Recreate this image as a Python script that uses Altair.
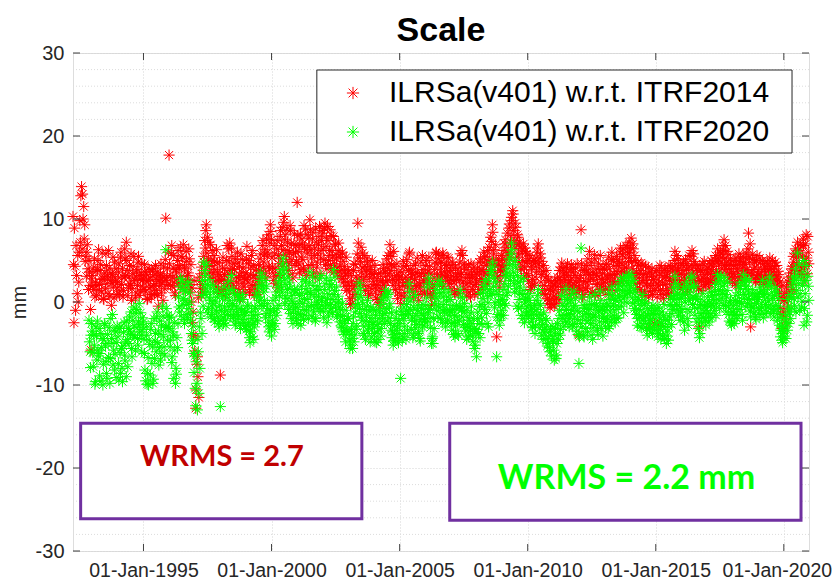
import altair as alt
import pandas as pd

# ---------------- data ----------------
# epochs: set "a" on the 1st/15th of each month, set "b" one week later; from April 1992
START_A = "1992-04-01"
OFFSET_B_DAYS = 7

SERIES = ["ILRSa(v401) w.r.t. ITRF2014", "ILRSa(v401) w.r.t. ITRF2020"]
COLORS = ["#ff0000", "#00ff00"]

# scale w.r.t. ITRF2014 [mm], set a
itrf2014_a = [
    10.3, -2.5, 4.3, 6.8, 1.0, 0.0, 6.0, 7.2, 13.9, 13.0, 11.5, 9.3, 5.5, 6.0, 4.0, 5.0, 2.0, -5.8,  # 1992
    3.2, 1.5, 5.2, 2.4, 0.8, 3.9, 6.3, 2.1, 4.5, 1.2, 2.8, 0.3, 3.5, 5.8, 2.2, 1.0, 4.1, 2.6, -0.4, 3.3, 1.8, 4.8, 2.5, 0.9,
    2.4, 4.6, 1.3, 6.0, 3.1, 0.6, 2.9, 5.2, 7.2, 3.8, 1.7, 4.4, 2.0, 0.2, 3.4, 5.5, 2.6, 1.1, 3.9, 4.8, 0.8, 2.7, 3.5, 1.9,
    2.8, 4.5, 1.2, 3.3, 0.4, 2.6, 3.9, 1.8, 0.9, 3.1, 4.0, 2.2, 1.4, 3.6, -0.5, 2.5, 3.4, 1.1, 2.9, 4.2, 1.6, 10.1, 3.0, 2.1,
    17.7, 3.2, 5.8, 1.9, 4.1, 2.4, 0.8, 3.6, 5.0, 2.2, 4.4, 6.6, 3.1, 5.3, 1.5, 4.0, 6.1, 2.7, 3.5, 5.2, 1.2, 0.0, -2.5, -4.0,
    -5.9, -12.8, -7.5, -9.0, -11.5, 2.5, 0.8, 3.4, 1.2, 4.8, 6.5, 9.3, 7.8, 5.2, 3.6, 6.9, 4.4, 2.8, 5.6, 3.9, 1.8, 4.7, 2.5, 3.3,
    -8.8, 2.6, 4.1, 1.4, 3.3, 0.9, 5.0, 2.2, 6.4, 7.1, 3.8, 5.5, 2.0, 4.6, 1.1, 3.0, 6.0, 2.9, 4.3, 0.5, 3.6, 5.1, 1.8, 2.7,
    3.5, 6.7, 2.4, 5.0, 1.5, 4.2, 6.2, 3.0, 0.8, 2.1, 3.9, 1.2, 4.5, 2.8, 5.8, 3.6, 7.4, 4.8, 6.3, 2.9, 5.5, 8.1, 4.0, 9.3,
    7.5, 4.2, 2.6, 5.8, 3.1, 6.4, 1.7, 4.6, 7.9, 5.2, 9.0, 6.3, 10.3, 8.1, 4.9, 7.2, 3.8, 6.0, 8.6, 5.1, 2.9, 7.0, 4.4, 6.8,
    12.0, 6.1, 3.5, 8.2, 5.4, 7.0, 4.1, 6.6, 8.8, 3.2, 5.9, 7.7, 9.9, 6.3, 4.5, 8.4, 5.6, 3.0, 7.2, 4.8, 6.9, 9.1, 5.3, 7.4,
    8.3, 5.1, 9.5, 6.7, 4.0, 7.4, 5.6, 8.7, 3.9, 6.2, 7.9, 4.6, 6.9, 5.2, 3.5, 7.1, 4.3, 5.8, 2.8, 4.9, 3.1, 1.9, 5.4, 2.4,
    3.6, 1.2, -0.3, 2.5, 0.6, 3.8, 1.9, 4.5, 2.2, 9.5, 5.3, 3.0, 6.6, 4.1, 2.7, 5.6, 1.4, 3.7, 4.8, 0.8, 2.9, 4.2, 1.6, 3.3,
    2.1, 4.4, 0.5, 2.8, -0.3, 1.7, 3.5, 0.9, 2.4, 4.0, 1.3, 3.1, 5.2, 2.6, 4.6, 6.9, 3.8, 5.5, 2.0, 4.3, 1.5, 3.2, 0.4, 2.7,
    1.8, -0.2, 3.6, 2.0, 4.3, 1.1, 3.0, 5.1, 2.4, 5.8, 4.0, 1.6, 3.3, 0.5, 2.7, 4.6, 1.9, 3.5, 0.2, 2.2, 4.8, 1.3, 3.9, 2.6,
    3.4, 5.0, 1.2, 2.8, 4.3, 0.8, -0.4, 2.1, 1.5, 3.9, 5.9, 4.6, 2.6, 5.2, 3.1, 4.8, 2.5, 5.6, 3.7, 2.9, 4.4, 3.2, 5.3, 2.2,
    3.8, 1.6, 4.5, 2.3, 0.9, 3.1, 1.4, 4.0, 2.6, 5.8, 3.5, 5.6, 1.8, 4.2, 2.9, 0.7, 3.3, 1.2, 2.4, 4.6, 3.0, 1.9, 3.7, 2.1,
    2.4, 4.1, 1.5, 3.6, 5.2, 2.8, 4.7, 6.0, 3.4, 5.5, 2.2, 4.8, 6.6, 3.9, 7.3, 9.3, 5.8, 4.4, 6.9, -4.2, 3.1, 5.0, 2.5, 4.3,
    3.6, 6.2, 4.4, 7.5, 5.1, 8.3, 6.0, 9.4, 7.2, 10.2, 11.0, 8.6, 6.5, 9.0, 5.4, 7.8, 4.8, 6.7, 3.9, 5.9, 7.0, 4.2, 6.1, 3.4,
    4.9, 2.5, 5.6, 1.8, 3.9, 2.2, 4.6, 3.0, 5.3, 6.0, 7.0, 4.1, 5.8, 3.3, 1.5, 4.4, 2.0, 0.9, 3.1, -0.2, 1.6, -0.7, 2.4, 0.5,
    1.3, -0.5, 2.2, 0.4, 3.0, 1.1, 3.8, 2.4, 4.7, 1.9, 3.5, 2.7, 4.2, 1.5, 3.2, 0.9, 2.6, 4.5, 1.7, 3.6, 2.0, 4.1, 1.2, 2.9,
    -4.0, 2.6, 8.7, 1.4, 3.8, 0.9, 2.5, 4.4, 1.8, 3.3, 6.1, 2.9, 4.8, 1.2, 3.6, 5.2, 2.1, 4.0, 0.8, 3.0, 5.6, 1.9, 3.4, 2.3,
    3.9, 1.5, 4.6, 2.8, 5.4, 1.9, 3.2, 6.0, 2.5, 4.3, 1.4, 3.7, 5.1, 2.2, 4.8, 6.5, 3.0, 5.7, 2.6, 4.1, 6.8, 3.5, 5.9, 7.2,
    5.3, 7.7, 4.0, 6.4, 2.9, 5.0, 3.6, 1.7, 4.4, 2.3, 3.8, 1.1, 4.5, 2.6, 0.8, 3.4, 1.9, 4.2, -3.0, 2.0, 3.1, 0.9, 2.7, -2.6,
    1.6, 3.8, -2.8, 2.4, 4.4, 0.9, 3.2, 1.4, 2.9, 4.0, 1.0, 3.5, 0.8, 2.6, 4.3, 1.8, 3.7, 2.2, 6.1, 4.6, 2.7, 5.2, 3.3, 1.9,
    3.4, 1.5, 4.8, 2.6, 5.1, 3.9, 1.2, 4.2, 2.8, 5.5, 6.2, 3.6, 4.9, 2.3, 4.0, 3.1, 1.6, -3.0, 3.8, 2.5, 4.6, 1.9, 3.3, 2.1,
    2.8, 4.1, 1.7, 3.4, 5.0, 2.4, 4.3, 3.0, 5.6, 3.7, 6.4, 4.6, 3.2, 5.8, 4.0, 6.8, 7.5, 5.3, 3.9, 6.1, 4.5, 2.9, 5.2, 3.6,
    2.4, 4.4, 3.1, 5.3, 2.0, 4.0, 5.8, 3.3, 4.9, 2.6, 5.5, 3.8, 4.5, 5.9, 3.4, 8.3, 4.8, -3.0, 3.6, 5.1, 2.8, 4.2, 3.0, 5.6,
    3.9, 2.4, 4.7, 3.0, 5.0, 2.1, 4.2, 3.5, 2.7, 4.6, 3.2, 5.3, 2.5, 4.0, 3.6, 2.2, 4.8, 3.1, 2.0, 3.7, 1.2, -0.8, 1.9, -3.2,
    -1.2, 1.0, -2.5, 0.5, 2.4, 1.3, 3.5, 2.1, 4.3, 5.5, 3.0, 6.4, 4.6, 7.2, 5.8, 3.7, 6.6, 4.1, 7.6, 2.6, 5.0, 8.1, 3.4, 6.0,  # 2020
]

# scale w.r.t. ITRF2014 [mm], set b
itrf2014_b = [
    4.5, 8.9, -1.0, 3.2, 5.6, 2.4, 9.8, 12.8, 6.4, 10.0, 7.6, 4.9, 3.1, 6.9, 1.5, 3.6, -0.9, 2.8,  # 1992
    1.9, 4.2, 0.6, 3.7, 2.0, 5.0, 1.4, 3.8, 2.7, 5.9, 0.4, 3.0, 1.6, 4.4, 3.1, 6.2, 0.7, 3.5, 2.3, 5.4, 0.5, 2.9, 4.0, 1.7,
    3.6, 0.9, 5.4, 2.1, 4.0, 1.4, 6.4, 3.2, 5.0, 0.8, 3.0, 2.2, 5.8, 1.6, 4.3, 2.8, 0.5, 3.6, 2.0, 5.5, 3.2, 1.3, 4.6, 2.6,
    1.5, 3.6, 2.5, 0.3, 4.1, 1.7, 2.9, 0.6, 3.7, 2.0, 1.0, 4.4, 2.7, 0.8, 3.2, 1.9, 4.6, 2.3, 0.2, 3.0, 5.1, 2.6, 4.0, 6.0,
    4.6, 2.0, 6.8, 3.0, 5.6, 1.1, 3.9, 2.8, 6.2, 4.1, 1.8, 5.5, 2.5, 6.9, 4.2, 2.4, 4.9, 3.2, 6.4, 2.1, 4.5, 1.7, -1.2, 2.6,
    -4.2, -10.6, -6.6, 0.5, 3.0, 1.6, 4.2, 2.1, 5.5, 7.4, 8.6, 5.9, 4.3, 7.2, 3.0, 5.0, 6.2, 3.5, 4.9, 2.4, 6.3, 3.6, 1.5, 4.8,
    3.1, 1.0, 5.4, 2.7, 4.0, 1.8, 6.8, 3.5, 4.8, 2.5, 6.5, 4.0, 1.6, 3.9, 5.2, 2.4, 4.7, 1.5, 3.2, 5.8, 2.2, 4.1, 3.0, 1.2,
    5.2, 2.9, 4.6, 1.1, 3.3, 5.6, 2.0, 4.4, 1.8, 3.2, 0.9, 2.6, 3.8, 5.2, 2.0, 6.8, 4.2, 5.7, 3.4, 7.6, 6.0, 4.3, 7.1, 8.5,
    5.3, 3.5, 6.8, 4.0, 2.2, 7.4, 5.6, 3.2, 8.6, 6.8, 4.3, 9.6, 7.5, 5.7, 8.8, 6.2, 4.6, 9.2, 7.0, 3.4, 5.8, 8.2, 6.0, 4.9,
    8.0, 4.6, 6.9, 3.9, 7.6, 5.1, 9.2, 3.7, 6.3, 8.1, 4.4, 6.8, 8.7, 5.3, 7.6, 3.6, 6.5, 8.9, 4.2, 5.8, 7.9, 3.4, 6.2, 8.6,
    6.4, 8.9, 4.5, 7.7, 9.1, 5.0, 6.2, 4.4, 8.0, 5.4, 3.6, 7.0, 5.7, 4.1, 6.2, 3.1, 5.4, 3.8, 6.0, 2.4, 4.3, 3.4, 1.4, 3.9,
    2.0, 0.4, 3.2, -0.2, 1.6, 4.6, 0.9, 3.0, 5.8, 7.1, 2.4, 4.9, 3.6, 5.9, 2.0, 4.3, 3.1, 5.2, 1.9, 3.9, 1.0, 3.4, 5.0, 2.5,
    3.5, 1.2, 2.0, 0.3, 3.4, -0.1, 2.6, 1.4, 4.5, 2.0, 3.6, 2.4, 4.1, 5.6, 3.4, 5.9, 4.5, 2.7, 6.1, 3.0, 2.4, 4.6, 1.1, 3.6,
    3.0, 0.8, 2.7, 4.9, 0.6, 2.3, 4.4, 1.9, 3.8, 6.0, 2.9, 3.6, 1.2, 4.4, 2.0, 3.5, 5.3, 0.9, 3.1, 1.8, 3.4, 5.6, 2.4, 1.0,
    4.4, 2.3, 3.6, 5.4, 1.8, 3.4, 0.5, 1.0, 2.9, 4.8, 6.0, 3.3, 5.7, 2.0, 4.1, 3.5, 5.9, 1.9, 4.6, 3.0, 5.4, 2.6, 4.1, 3.5,
    2.6, 4.8, 3.0, 1.2, 4.1, 2.7, 3.4, 1.0, 4.8, 3.3, 6.2, 2.4, 4.6, 1.5, 3.9, 2.2, 4.5, 2.9, 0.6, 3.5, 1.5, 4.2, 0.9, 2.8,
    3.3, 1.0, 4.8, 2.6, 3.9, 1.8, 3.7, 5.4, 2.5, 4.4, 6.2, 3.2, 5.1, 7.8, 4.6, 8.4, 6.3, 3.6, 5.2, 2.9, 4.5, 1.8, 3.8, 5.6,
    5.2, 4.0, 7.0, 3.2, 6.6, 5.8, 8.9, 5.3, 8.0, 9.8, 10.6, 7.4, 9.5, 7.0, 8.1, 5.8, 7.2, 4.1, 6.4, 5.0, 3.0, 6.5, 4.7, 5.8,
    3.2, 5.2, 1.5, 4.3, 2.7, 5.0, 2.0, 4.8, 3.6, 6.5, 4.6, 5.3, 2.4, 4.9, 3.7, 1.0, 2.9, 3.8, 0.4, 2.6, 0.2, 1.4, -0.3, 1.9,
    0.7, 2.6, -0.2, 1.8, 2.6, 0.3, 2.9, 4.2, 1.5, 4.0, 3.0, 2.0, 3.6, 4.6, 2.3, 1.9, 3.9, 2.9, 4.1, 1.0, 3.2, 2.4, 4.6, 1.8,
    1.7, 3.2, 4.6, 0.6, 2.4, 3.9, 1.6, 3.6, 5.2, 2.5, 4.4, 1.1, 3.6, 2.7, 5.7, 0.9, 3.2, 2.2, 4.6, 1.5, 3.9, 2.7, 4.2, 1.4,
    2.4, 4.5, 3.0, 0.9, 4.0, 3.3, 5.1, 2.1, 4.9, 3.3, 2.5, 5.5, 3.4, 4.4, 5.9, 3.7, 4.6, 6.4, 3.6, 5.3, 4.2, 6.6, 4.9, 6.0,
    6.5, 4.8, 7.0, 3.4, 5.6, 2.2, 4.7, 2.9, 3.4, 1.5, 4.7, 2.6, 3.3, 1.3, 4.3, 2.3, 3.0, 0.6, 3.6, 1.3, 4.0, 2.2, 1.4, 3.6,
    3.0, 0.6, 2.0, 3.5, 1.4, 4.2, 2.3, 0.4, 3.8, 2.1, 3.1, 1.6, 4.4, 2.9, 1.2, 4.0, 2.6, 5.0, 3.6, 5.6, 3.8, 4.1, 2.2, 4.6,
    2.2, 4.4, 3.0, 3.8, 1.8, 4.6, 3.0, 5.6, 2.0, 4.4, 3.4, 5.8, 2.6, 4.5, 1.9, 3.8, 2.6, 4.4, 1.4, 3.6, 2.9, 4.9, 2.4, 3.9,
    3.6, 2.3, 4.6, 2.6, 3.9, 4.8, 3.3, 5.0, 2.6, 4.9, 5.3, 3.6, 6.0, 4.7, 5.4, 6.2, 4.4, 6.8, 4.8, 3.4, 5.7, 4.0, 3.0, 4.5,
    3.4, 5.0, 2.2, 4.5, 3.7, 2.8, 4.8, 5.3, 3.0, 4.1, 4.7, 2.8, 5.2, 3.9, 6.4, 5.4, 7.0, 3.2, 5.7, 3.9, 4.8, 2.4, 5.0, 3.3,
    3.2, 5.3, 2.7, 3.7, 2.5, 4.6, 2.9, 4.0, 4.9, 2.2, 3.9, 4.3, 3.2, 5.0, 2.8, 4.3, 2.9, 4.4, 2.6, 3.3, 2.4, 0.6, -1.5, 0.2,
    0.2, -1.8, 1.8, -0.6, 3.0, 0.7, 2.6, 4.0, 1.5, 4.8, 5.8, 3.8, 5.4, 6.2, 4.3, 6.9, 3.3, 5.5, 6.8, 4.3, 7.0, 5.3, 7.9, 4.6,  # 2020
]

# scale w.r.t. ITRF2020 [mm], set a (no solution before late 1992)
itrf2020_a = [
    None, None, None, None, None, None, None, None, None, None, None, None, None, None, None, -2.2, -6.0, -4.0,  # 1992
    -3.5, -7.8, -5.2, -9.6, -4.1, -2.3, -6.5, -8.9, -3.8, -5.5, -10.0, -4.6, -2.8, -7.2, -9.2, -5.0, -3.1, -6.8, -4.4, -1.5, -5.8, -8.2, -3.6, -4.9,
    -4.2, -9.4, -6.1, -3.0, -8.0, -5.3, -2.5, -7.1, -9.0, -4.5, -3.2, -1.8, -3.9, -5.6, -2.2, -0.6, -4.3, -1.4, -3.1, -5.2, -0.2, -2.7, -4.0, -1.9,
    -2.4, -6.2, -9.5, -4.0, -8.6, -10.0, -5.1, -3.3, -7.4, -9.8, -2.0, -4.7, -6.0, -1.2, -3.5, -5.5, -7.0, -2.8, -0.5, -4.2, -6.4, 6.3, -3.0, -1.6,
    -3.2, -5.4, -1.8, -6.6, -4.0, -2.5, -9.8, -8.7, -5.5, 0.6, -1.2, 2.8, -0.4, 1.5, -2.1, 0.2, -1.5, 2.0, -0.8, 1.1, -2.2, -3.8, -5.0, -6.2,
    -6.5, -12.5, -9.8, -4.5, -11.0, -8.0, -2.0, -3.8, -0.5, 1.8, 3.2, 4.5, 2.1, -0.8, 0.5, 1.6, -1.5, -0.2, 1.2, -2.4, -1.0, 0.6, -1.8, -3.0,
    -12.6, -1.0, 0.4, -2.6, -0.6, -2.2, 1.0, -1.5, 2.5, 0.2, -0.9, 1.5, -2.0, -0.4, -2.8, -1.2, 0.8, -1.8, 0.3, -3.2, -1.0, 0.9, -2.5, -1.6,
    -1.2, -2.8, -0.5, -3.5, -4.9, -2.0, -4.2, -1.6, -3.0, -0.8, 0.6, -2.3, 1.8, 0.2, 3.5, 2.0, -0.5, 1.2, 2.6, -1.4, -0.2, -2.5, -3.6, -1.0,
    -4.1, -2.2, -0.8, -3.3, 0.5, -1.6, 1.8, -0.4, 2.6, 3.9, 1.2, 5.3, 2.8, 0.6, 4.1, 1.5, -0.9, 2.3, -1.4, 0.8, -2.6, -0.2, 1.1, -1.8,
    -0.6, -2.6, 0.8, -1.5, 1.9, -0.2, -2.1, 0.4, 2.5, -1.0, 1.2, -0.5, 3.6, 0.9, -1.8, 2.0, -0.7, -2.3, 1.4, -0.3, 0.7, 2.8, -1.1, 0.2,
    0.6, -1.9, 2.2, -0.4, -2.5, 1.0, -1.2, 2.6, -0.8, 0.3, 3.9, 1.4, -0.6, 1.8, -1.5, 0.1, -2.4, -0.9, -3.1, -1.7, -3.9, -2.6, -1.0, -3.4,
    -2.0, -4.6, -5.2, -3.3, -5.6, -1.8, -4.0, -0.5, -2.9, 1.2, 2.3, -1.4, 0.6, -2.2, -3.8, -0.9, -4.5, -1.6, 0.2, -3.0, -2.4, -0.6, -4.2, -2.7,
    -2.5, -4.8, -1.0, -3.6, -4.5, -2.0, -0.3, -3.2, -1.6, 0.5, -2.6, 1.4, -0.8, 0.9, -1.9, -0.2, -3.4, -4.3, -5.2, -2.8, -4.6, -1.2, -3.0, -4.9,
    -3.8, -9.2, -1.5, -4.2, -0.6, -2.9, -4.5, -1.1, 0.4, 2.2, -0.9, -3.3, -1.8, -4.0, -2.3, 0.8, -2.7, -1.0, -3.6, -4.4, -1.4, -2.1, -0.3, -2.8,
    -0.5, 1.8, -2.4, -0.9, 2.2, -3.1, -5.0, -4.2, -2.0, -0.2, 1.5, 0.4, -1.8, 2.6, -0.7, 1.1, -2.5, 0.6, -1.3, -3.0, 0.1, -2.2, 1.2, -1.0,
    -1.2, -3.4, -0.4, -2.5, -4.2, -1.6, -3.8, -0.8, -2.2, 1.4, -1.0, 0.5, -2.7, -0.2, -3.5, -4.5, -1.9, -3.0, -4.0, -1.3, -2.6, -4.8, -3.2, -5.2,
    -6.6, -2.0, -3.8, -0.5, 1.0, -1.9, 0.4, 2.0, -0.9, 1.6, -2.6, -0.1, 2.8, 0.8, 3.5, 4.8, 1.9, -0.7, 2.4, -6.6, -1.5, 0.9, -2.2, 0.3,
    -1.0, 1.5, -0.2, 3.1, 0.8, 4.0, 1.9, 5.2, 2.6, 7.1, 4.5, 3.0, 1.2, 4.2, -0.5, 2.4, 0.3, 1.8, -1.6, 0.9, 2.8, -2.5, 0.4, -1.2,
    0.6, -1.8, 1.0, -2.4, -0.7, -3.1, -1.2, -3.8, 0.2, -0.9, 1.5, -2.0, -0.4, -4.0, -2.7, -1.3, -3.3, -4.4, -2.2, -5.0, -3.6, -6.0, -4.1, -2.9,
    -4.8, -7.0, -3.2, -6.4, -2.6, -4.5, -1.0, -3.3, 0.8, -2.0, -0.5, -1.6, 1.6, -2.4, -0.2, -3.0, -1.4, 0.9, -2.7, -0.6, -1.8, 0.4, -3.5, -2.1,
    -7.4, -1.2, 6.5, -3.0, -0.4, -4.2, -2.2, -0.8, -3.6, -1.5, 0.6, -2.6, -0.3, -4.5, -1.8, 0.9, -2.8, -0.6, -3.9, -1.2, 1.3, -3.2, -0.9, -2.0,
    -1.0, -3.0, -0.2, -2.1, 1.1, -2.9, -0.6, 1.8, -1.6, 0.4, -2.5, -0.9, 1.5, -1.9, 0.8, 2.6, -0.5, 1.9, -1.3, 0.7, 3.0, -0.1, 2.2, 3.3,
    2.0, 3.3, 0.5, 2.6, -0.8, 1.2, -1.5, -2.8, 0.3, -1.9, -0.4, -3.1, 0.9, -1.2, -2.6, -0.1, -4.0, -1.6, -3.4, -2.2, -0.7, -3.8, -1.4, -2.9,
    -1.5, -3.5, -4.2, -0.6, -2.4, -4.5, -1.2, -3.0, -0.3, -2.1, -5.0, -3.6, -4.6, -1.8, 0.4, -2.7, -0.9, 1.6, 3.1, 0.8, -1.0, 1.9, -0.5, -2.2,
    0.5, -1.8, 1.6, -3.4, 0.9, 2.4, -2.0, 0.2, -1.2, 2.9, 3.1, 0.6, 1.8, -1.6, 0.7, -0.8, -3.2, -4.3, -0.3, -2.5, 1.0, -1.9, -0.6, -2.8,
    -1.4, 0.6, -2.4, -0.5, 1.2, -1.9, 0.3, -1.0, 2.1, -0.2, 3.3, 1.5, -0.8, 2.6, 0.4, 1.9, 3.0, 0.9, -1.2, 1.4, -0.6, -2.3, 0.2, -2.8,
    -2.3, -0.4, -1.6, 0.8, -2.0, 0.1, 1.9, -0.9, 2.4, -1.5, 3.3, 0.5, 1.6, 2.8, -0.2, 1.2, 0.3, -1.8, -0.6, 1.5, -1.3, 0.7, -2.1, 1.0,
    0.6, -1.5, 1.8, -0.6, 2.6, -1.9, 0.9, -0.3, -1.2, 2.0, 0.2, 3.0, -1.4, 1.1, -0.5, -1.8, 1.6, -0.9, -2.2, 0.4, -2.8, -4.2, -3.0, -4.9,
    -3.6, -2.0, -4.4, -1.5, 0.3, -2.6, 0.9, -0.8, 1.8, 3.0, -0.4, 4.0, 1.4, 5.9, 2.2, -1.0, 2.8, 0.1, 3.6, -2.8, 1.0, 4.4, -1.6, 1.9,  # 2020
]

# scale w.r.t. ITRF2020 [mm], set b
itrf2020_b = [
    None, None, None, None, None, None, None, None, None, None, None, None, None, None, None, -4.8, -7.9, -2.6,  # 1992
    -6.1, -4.0, -9.9, -3.0, -7.0, -5.8, -3.2, -6.2, -9.5, -4.4, -7.5, -2.6, -5.3, -8.6, -3.9, -6.7, -9.8, -2.0, -5.0, -7.6, -3.4, -6.3, -9.1, -2.9,
    -7.4, -3.2, -8.6, -5.6, -9.6, -3.7, -6.4, -4.8, -2.3, -7.8, -5.0, -3.5, -1.2, -6.6, -4.0, -2.9, -5.8, -0.9, -4.4, -2.4, -3.6, -1.3, -6.0, -3.3,
    -4.5, -8.2, -3.0, -9.9, -6.7, -4.6, -8.8, -2.6, -5.4, -9.3, -6.8, -3.8, -1.8, -4.9, -7.6, -2.3, -3.9, -6.2, -1.7, -5.4, -3.1, -0.8, -4.6, -2.9,
    -1.9, -4.6, -7.3, -3.6, -9.2, -5.8, -8.0, -4.3, -2.6, -0.6, 1.9, -1.7, 2.5, 0.4, -2.6, 1.3, -0.3, -1.9, 2.4, 0.0, -1.4, -4.6, -2.9, -8.5,
    -10.4, -7.2, -13.0, -6.0, -3.0, -1.3, 0.8, 2.6, 4.8, 3.8, 0.9, 1.2, -1.3, 2.7, 0.2, -1.8, -0.6, 2.0, -2.0, 0.1, -1.2, 1.3, -2.6, -0.4,
    -2.2, 0.9, -1.8, 1.8, -1.2, -2.8, 0.6, -0.5, 1.4, -1.6, 3.2, -0.2, -1.7, 1.0, -2.4, -0.6, -1.5, 0.5, -2.6, -0.8, -2.1, 0.3, -1.3, -2.9,
    -3.3, -0.4, -2.5, -4.3, -3.6, -1.2, -2.7, -4.5, -0.6, -2.2, 1.1, -1.5, 0.6, 2.6, -0.4, 3.0, 1.6, 0.2, -1.9, 1.9, -0.8, -3.0, -1.6, -2.8,
    -2.9, 0.2, -1.3, -2.6, 1.2, -0.8, 2.4, 0.8, 3.3, 1.8, 4.6, 3.6, -0.2, 2.1, 0.4, 3.0, -0.4, 1.6, -2.0, 0.1, -1.2, 1.5, -0.7, -2.2,
    1.5, -1.4, 0.1, -2.8, 1.0, 2.7, -0.9, -1.6, 1.6, 0.3, -2.0, 2.3, 1.1, -0.4, 3.0, -1.2, 0.6, -2.0, 0.0, 1.9, -0.8, 1.5, 3.2, -0.5,
    -1.1, 1.5, -0.1, 2.9, 0.4, -1.7, 1.8, -0.3, 2.1, -1.3, 0.9, 3.0, -0.1, -1.8, 0.7, -0.7, -1.6, -2.9, -0.2, -3.6, -2.2, -4.8, -3.5, -2.0,
    -3.6, -5.6, -3.9, -4.4, -2.6, -4.8, -1.2, -3.3, -0.3, 0.5, -0.8, 1.6, -1.8, -0.1, -2.9, -4.0, -2.3, -0.5, -3.5, -1.1, -4.8, -1.9, -3.2, -0.9,
    -3.8, -1.6, -4.9, -2.7, -3.2, -1.2, -4.1, -2.3, 0.2, -0.8, -1.4, 0.6, -2.3, 1.1, -0.6, -2.6, -1.3, -3.6, -4.7, -3.9, -2.0, -3.4, -4.4, -2.2,
    -2.6, -1.1, -4.6, -2.0, -3.8, -1.6, -0.3, -3.4, -1.4, 1.3, 0.1, -2.2, -4.3, -0.7, -3.1, -1.6, -0.4, -3.8, -2.4, -4.7, -0.8, -3.0, -1.6, -2.3,
    -2.0, 0.5, -1.3, 2.9, -0.8, -1.9, -4.4, -5.0, -3.2, 0.7, -1.0, 2.0, -0.5, 1.1, -2.0, 2.2, -1.1, -0.3, 1.5, -2.4, -0.9, 0.6, -1.6, 0.3,
    -2.6, -0.9, -3.9, -1.7, -2.9, -0.4, -2.4, -4.0, -0.6, 0.6, -1.8, -0.6, -1.2, -3.1, -1.0, -2.9, -4.2, -2.2, -3.4, -0.5, -4.1, -2.0, -5.6, -3.6,
    -3.3, -1.2, -2.6, -4.3, -0.3, -2.7, 1.2, -0.6, 2.6, -1.4, 0.7, -3.0, 1.5, 3.8, 1.0, 4.2, 2.9, -0.1, 1.3, -1.8, 0.1, -2.8, -0.4, -1.6,
    0.3, -1.6, 2.2, -0.4, 3.4, 1.1, 4.6, 3.2, 5.8, 6.3, 3.6, 2.2, 5.0, 1.6, 3.2, -0.8, 1.0, 2.5, -0.5, -2.0, 1.4, 0.0, -1.6, -0.6,
    -1.2, 0.2, -0.4, -1.5, -3.0, -2.0, -0.4, -2.8, -1.6, 0.8, -0.2, -3.1, -1.5, -2.2, -4.5, -3.7, -2.0, -3.0, -5.3, -4.4, -5.5, -3.3, -6.5, -4.7,
    -5.8, -4.0, -6.8, -5.0, -3.8, -2.0, -4.0, -1.6, -0.4, -3.0, 0.6, -2.4, -0.9, 0.3, -1.5, -2.0, 0.2, -1.0, -3.0, 1.3, -0.4, -2.6, -1.1, -3.9,
    -4.2, -2.6, 0.6, -1.8, -4.0, -0.7, -3.2, -1.4, -0.3, -2.2, -0.9, -4.0, -1.9, -3.1, -0.2, -1.6, -0.4, -3.4, -1.0, -2.4, 0.2, -1.8, -4.1, -0.5,
    -2.4, -0.6, -1.8, -3.2, 0.3, -1.2, -2.4, 0.8, -0.4, -1.8, 0.2, -2.0, 0.6, -0.6, 2.0, 0.1, 1.3, 2.9, 0.5, 1.4, 2.4, 1.0, 2.9, 1.4,
    1.2, 2.4, -0.2, 1.6, 0.0, -1.0, 0.6, -2.0, -0.9, -3.0, -1.6, 0.1, -2.2, -0.2, -1.8, -3.2, -0.8, -2.6, -1.4, -3.1, -2.0, -0.4, -3.3, -1.0,
    -2.6, -0.8, -3.8, -1.9, -3.3, -2.6, -4.0, -1.6, -4.4, -3.0, -4.1, -2.2, -3.0, -0.4, -1.4, -0.5, 0.7, 0.3, 2.2, -0.3, 1.0, -1.6, 0.4, -1.2,
    -0.8, 0.9, -2.4, 0.0, 1.9, -0.9, -2.8, 1.2, 0.4, 1.8, -0.3, 2.0, -0.7, 0.4, -2.4, 0.3, -2.0, -3.8, -1.4, -0.4, -1.3, 0.1, -2.2, -1.0,
    -0.4, -1.8, 0.0, -1.4, -0.2, 0.8, -0.6, 1.3, -1.6, 0.9, 2.4, 0.2, 1.3, 3.0, 1.0, -0.4, 2.2, -0.4, 0.6, 2.4, -1.5, -0.1, -2.5, -1.2,
    -1.2, -2.6, 0.2, -0.8, -1.6, 1.1, 0.0, 1.6, -0.2, -2.2, 0.9, 2.4, -0.6, 1.9, 0.4, 2.6, -1.1, -0.4, 1.0, -0.7, 0.4, -1.8, -0.2, 0.3,
    -0.8, 1.1, -1.0, 1.3, 0.0, 1.0, -1.4, 1.5, 0.6, -0.6, 2.4, -0.8, 1.9, 0.4, -1.2, 0.8, -0.4, 1.2, -1.4, -0.5, -1.9, -3.4, -4.6, -3.8,
    -4.2, -3.0, -2.4, -3.4, -0.6, -1.2, -2.0, 0.6, 2.3, 0.4, 2.6, -1.2, 3.2, 0.6, 4.6, 1.0, -0.6, 2.0, 5.0, -0.8, 2.6, -2.4, 3.1, 0.2,  # 2020
]

# axes
X_DOMAIN = ["1992-04-01", "2020-12-25"]
Y_DOMAIN = [-30, 30]
X_TICKS = ["1995-01-01", "2000-01-01", "2005-01-01", "2010-01-01", "2015-01-01", "2020-01-01"]
Y_TICKS = [-30, -20, -10, 0, 10, 20, 30]
Y_MINOR = [-28, -26, -24, -22, -18, -16, -14, -12, -8, -6, -4, -2,
           2, 4, 6, 8, 12, 14, 16, 18, 22, 24, 26, 28]

# annotation boxes (data coordinates)
box_x = ["1992-07-19", "2006-12-16"]
box_x2 = ["2003-07-12", "2020-09-02"]
box_y = [-14.6, -14.6]
box_y2 = [-26.1, -26.3]
wrms_text = ["WRMS = 2.7", "WRMS = 2.2 mm"]
wrms_x = ["1998-01-22", "2013-11-10"]
wrms_y = [-19.8, -22.5]
wrms_color = ["#c00000", "#00ff00"]
wrms_size = [29, 34]

legend_box_x = ["2001-10-08"]
legend_box_x2 = ["2020-04-27"]
legend_box_y = [27.95]
legend_box_y2 = [17.95]

# ---------------- build ----------------
W, H = 736, 498
ASTERISK = "M-1,0L1,0M0,-1L0,1M-0.72,-0.72L0.72,0.72M-0.72,0.72L0.72,-0.72"
FONT = "Liberation Sans"


def frame(values, series, offset_days):
    dates = (pd.date_range(START_A, periods=len(values), freq="SMS")
             + pd.Timedelta(days=offset_days)).strftime("%Y-%m-%d")
    return pd.DataFrame({"date": dates, "value": values, "series": series})


pts = pd.concat([
    frame(itrf2014_a, SERIES[0], 0),
    frame(itrf2014_b, SERIES[0], OFFSET_B_DAYS),
    frame(itrf2020_a, SERIES[1], 0),
    frame(itrf2020_b, SERIES[1], OFFSET_B_DAYS),
]).dropna()

xscale = alt.Scale(domain=X_DOMAIN, nice=False)
yscale = alt.Scale(domain=Y_DOMAIN, nice=False, zero=False)

x_axis = alt.Axis(values=X_TICKS, format="%d-%b-%Y", title=None, labelFont=FONT,
                  labelFontSize=19.5, labelColor="#262626", labelPadding=10, ticks=False,
                  tickSize=0, domain=False, grid=True, gridColor="#d4d4d4",
                  gridDash=[1, 2], labelFlush=False, labelOverlap=False,
                  labelOffset={"condition": {"test": "year(datum.value) == 2020", "value": -7},
                               "value": 0})
y_axis = alt.Axis(values=Y_TICKS, title="mm", titleFont=FONT, titleFontSize=20,
                  titleFontWeight="normal", titleColor="#262626", titlePadding=6,
                  labelFont=FONT, labelFontSize=20, labelColor="#262626",
                  labelExpr="datum.value < 0 ? '-' + abs(datum.value) : '' + datum.value",
                  labelPadding=9, ticks=False, tickSize=0, domain=False, grid=True,
                  gridColor="#d4d4d4", gridDash=[1, 2])

minor_df = pd.DataFrame({"v": Y_MINOR})
minor = alt.Chart(minor_df).mark_rule(color="#dcdcdc", strokeDash=[1, 2], strokeWidth=1).encode(
    y=alt.Y("v:Q", scale=yscale, axis=y_axis),
    x=alt.value(0), x2=alt.value(W),
)

lbox_df = pd.DataFrame({"x": legend_box_x, "x2": legend_box_x2, "y": legend_box_y, "y2": legend_box_y2})
lbox = alt.Chart(lbox_df).mark_rect(fill="white", stroke="#262626", strokeWidth=1).encode(
    x=alt.X("x:T", scale=xscale, axis=x_axis), x2="x2:T",
    y=alt.Y("y:Q", scale=yscale), y2="y2:Q",
)

boxes_df = pd.DataFrame({"x": box_x, "x2": box_x2, "y": box_y, "y2": box_y2})
boxes = alt.Chart(boxes_df).mark_rect(fill="white", stroke="#7030a0", strokeWidth=3).encode(
    x=alt.X("x:T", scale=xscale), x2="x2:T",
    y=alt.Y("y:Q", scale=yscale), y2="y2:Q",
)

points = alt.Chart(pts).mark_point(shape=ASTERISK, filled=False, size=125,
                                   strokeWidth=1, opacity=1).encode(
    x=alt.X("date:T", scale=xscale),
    y=alt.Y("value:Q", scale=yscale),
    color=alt.Color("series:N", scale=alt.Scale(domain=SERIES, range=COLORS),
                    legend=alt.Legend(title=None, orient="none", legendX=265, legendY=25,
                                      symbolType=ASTERISK, symbolSize=150,
                                      symbolStrokeWidth=1, labelFont=FONT,
                                      labelFontSize=30, labelColor="#000000",
                                      labelLimit=700, labelOffset=21, rowPadding=9,
                                      padding=0)),
)

wrms_df = pd.DataFrame({"x": wrms_x, "y": wrms_y, "t": wrms_text, "c": wrms_color, "fs": wrms_size})
wrms = alt.Chart(wrms_df).mark_text(font="Lato", fontWeight="bold",
                                    align="center", baseline="alphabetic").encode(
    x=alt.X("x:T", scale=xscale), y=alt.Y("y:Q", scale=yscale),
    text="t:N", color=alt.Color("c:N", scale=None), size=alt.Size("fs:Q", scale=None),
)

# inward tick marks on all four sides
yt_df = pd.DataFrame({"v": Y_TICKS})
xt_df = pd.DataFrame({"d": X_TICKS})
tick_col = "#404040"
yt_left = alt.Chart(yt_df).mark_rule(color=tick_col).encode(
    y=alt.Y("v:Q", scale=yscale), x=alt.value(0), x2=alt.value(7))
yt_right = alt.Chart(yt_df).mark_rule(color=tick_col).encode(
    y=alt.Y("v:Q", scale=yscale), x=alt.value(W - 7), x2=alt.value(W))
xt_bottom = alt.Chart(xt_df).mark_rule(color=tick_col).encode(
    x=alt.X("d:T", scale=xscale), y=alt.value(H - 7), y2=alt.value(H))
xt_top = alt.Chart(xt_df).mark_rule(color=tick_col).encode(
    x=alt.X("d:T", scale=xscale), y=alt.value(0), y2=alt.value(7))

chart = alt.layer(
    minor, lbox, boxes, points, wrms, yt_left, yt_right, xt_bottom, xt_top
).properties(
    width=W, height=H,
    title=alt.Title("Scale", font=FONT, fontSize=34, fontWeight="bold", color="#000000",
                    anchor="middle", offset=-5),
    autosize=alt.AutoSizeParams(type="none"),
    padding={"left": 65, "top": 45, "right": 23, "bottom": 30},
).configure_view(
    stroke="#4d4d4d", strokeWidth=1
).configure(background="white")

chart.save("out.html", embed_options={"renderer": "svg", "actions": False})
